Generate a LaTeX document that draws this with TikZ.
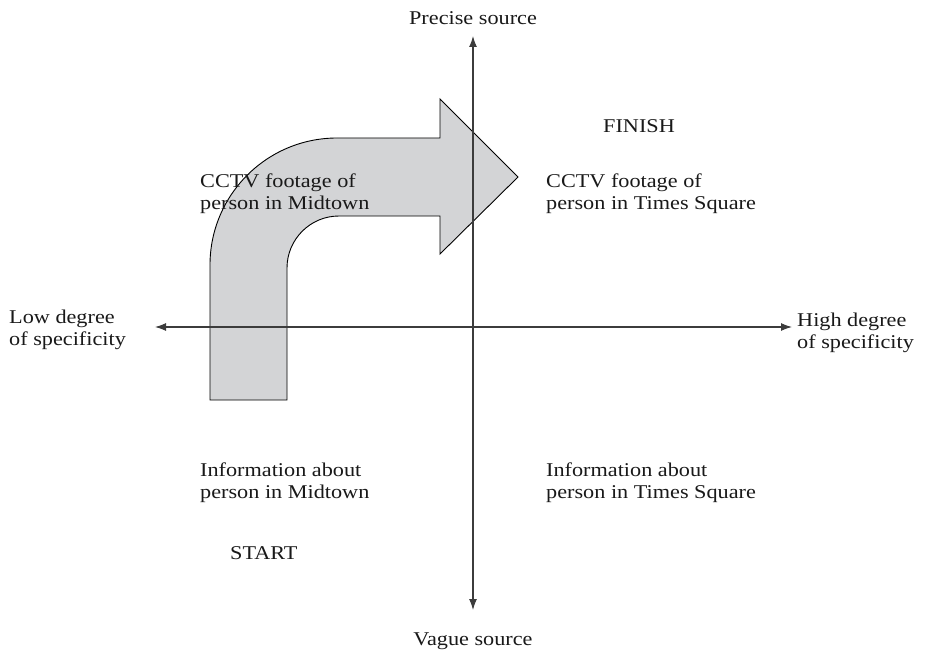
\documentclass[tikz,border=0pt]{standalone}
\usepackage{fontspec}
\setmainfont[FakeStretch=1.14]{Liberation Serif}
\usetikzlibrary{arrows.meta}
\definecolor{arrowgray}{RGB}{211,212,214}
\definecolor{axisgray}{RGB}{60,60,60}
\tikzset{
  lbl/.style={inner sep=0pt, align=left, font=\fontsize{19.5}{22}\selectfont, text=black!90},
  axis/.style={draw=axisgray, line width=1.1pt, {Latex[length=11pt,width=8pt]}-{Latex[length=11pt,width=8pt]}},
  bigarrow/.style={fill=arrowgray, draw=black, line width=0.9pt}
}
\begin{document}
\begin{tikzpicture}[x=1pt,y=-1pt]
\useasboundingbox (0,0) rectangle (936,655);
% big bent arrow
\draw[bigarrow] (210,400) -- (210,265) arc[start angle=180,end angle=270,radius=127] -- (440,138) -- (440,99) -- (518,177) -- (440,254) -- (440,216) -- (339,216) arc[start angle=270,end angle=180,radius=52] -- (287,400) -- cycle;
% axes
\coordinate (top) at (473,36);
\coordinate (bot) at (473,610);
\coordinate (lft) at (155,327);
\coordinate (rgt) at (792,327);
\draw[axis] (bot) -- (top);
\draw[axis] (lft) -- (rgt);
% labels
\node[lbl, anchor=base] (precise) at (473,25) {Precise source};
\node[lbl, anchor=base] (vague) at (473,645) {Vague source};
\node[lbl, anchor=north west] (low) at (9,310) {Low degree\\of specificity};
\node[lbl, anchor=north west] (high) at (797,313) {High degree\\of specificity};
\node[lbl, anchor=north west] (cctvm) at (200,174) {CCTV footage of\\person in Midtown};
\node[lbl, anchor=north west] (cctvt) at (546,174) {CCTV footage of\\person in Times Square};
\node[lbl, anchor=base west] (finish) at (603,133) {FINISH};
\node[lbl, anchor=north west] (infom) at (200,463) {Information about\\person in Midtown};
\node[lbl, anchor=north west] (infot) at (546,463) {Information about\\person in Times Square};
\node[lbl, anchor=base west] (start) at (230,559) {START};
\end{tikzpicture}
\end{document}
